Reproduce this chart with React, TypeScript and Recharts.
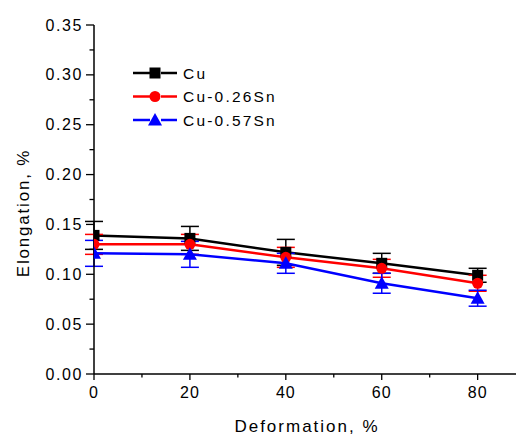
import { LineChart, Line, XAxis, YAxis, ErrorBar } from 'recharts';

// Deformation (%) and elongation (%)
const deformation = [0, 20, 40, 60, 80];
const cuValues = [0.139, 0.136, 0.122, 0.111, 0.099];
const cuErrors = [0.014, 0.012, 0.013, 0.01, 0.007];
const sn26Values = [0.13, 0.13, 0.117, 0.106, 0.091];
const sn26Errors = [0.01, 0.01, 0.01, 0.009, 0.008];
const sn57Values = [0.121, 0.12, 0.111, 0.091, 0.076];
const sn57Errors = [0.013, 0.013, 0.01, 0.01, 0.008];

const xTicks = [0, 10, 20, 30, 40, 50, 60, 70, 80];
const yTicks = [0, 0.025, 0.05, 0.075, 0.1, 0.125, 0.15, 0.175, 0.2, 0.225, 0.25, 0.275, 0.3, 0.325, 0.35];

const seriesNames = ['Cu', 'Cu-0.26Sn', 'Cu-0.57Sn'];
const seriesColors = ['#000000', '#ff0000', '#0000ff'];

const data = deformation.map((d, i) => ({
  deformation: d,
  cu: cuValues[i],
  cuErr: cuErrors[i],
  sn26: sn26Values[i],
  sn26Err: sn26Errors[i],
  sn57: sn57Values[i],
  sn57Err: sn57Errors[i],
}));

const FONT = '"Liberation Sans", Arial, sans-serif';

// plot box, used to cut markers that sit on the left axis
const PLOT = { left: 94, top: 25, right: 516, bottom: 374 };

const Marker = ({ kind, cx, cy, color }: { kind: number; cx: number; cy: number; color: string }) => {
  if (kind === 0) return <rect x={cx - 5.5} y={cy - 5.5} width={11} height={11} fill={color} />;
  if (kind === 1) return <circle cx={cx} cy={cy} r={5.5} fill={color} />;
  return <polygon points={`${cx},${cy - 7} ${cx - 7},${cy + 5.5} ${cx + 7},${cy + 5.5}`} fill={color} />;
};

const makeDot = (kind: number, color: string) => (props: any) => {
  if (props.cx == null || props.cy == null) return <g key={props.index} />;
  return (
    <g key={`d-${kind}-${props.index}`} clipPath="url(#plotClip)">
      {kind === 0 && props.index === 0 && (
        <defs>
          <clipPath id="plotClip">
            <rect x={PLOT.left} y={0} width={PLOT.right - PLOT.left} height={PLOT.bottom} />
          </clipPath>
        </defs>
      )}
      <Marker kind={kind} cx={props.cx} cy={props.cy} color={color} />
    </g>
  );
};

const XTick = ({ x, y, payload }: any) => {
  const major = payload.value % 20 === 0;
  return (
    <g>
      <line x1={x} x2={x} y1={y} y2={y + (major ? 6 : 3.5)} stroke="#000" strokeWidth={1.3} />
      {major && (
        <text x={x} y={y + 24} textAnchor="middle" fontFamily={FONT} fontSize={16} letterSpacing={1} fill="#000">
          {payload.value}
        </text>
      )}
    </g>
  );
};

const YTick = ({ x, y, payload }: any) => {
  const major = Math.round(payload.value * 1000) % 50 === 0;
  return (
    <g>
      <line x1={x} x2={x - (major ? 8 : 4.5)} y1={y} y2={y} stroke="#000" strokeWidth={1.3} />
      {major && (
        <text x={x - 11} y={y + 5.5} textAnchor="end" fontFamily={FONT} fontSize={16} letterSpacing={1.6} fill="#000">
          {payload.value.toFixed(2)}
        </text>
      )}
    </g>
  );
};

const XLabel = () => (
  <text x={307} y={432} textAnchor="middle" fontFamily={FONT} fontSize={17} letterSpacing={2} fill="#000">
    Deformation, %
  </text>
);

const YLabel = () => (
  <text
    x={29}
    y={213}
    transform="rotate(-90 29 213)"
    textAnchor="middle"
    fontFamily={FONT}
    fontSize={17}
    letterSpacing={1.8}
    fill="#000"
  >
    Elongation, %
  </text>
);

const LegendBox = () => (
  <svg width={170} height={80} style={{ position: 'absolute', left: 130, top: 63 }}>
    {seriesNames.map((name, i) => {
      const cy = 10 + i * 23.5;
      return (
        <g key={name}>
          <line x1={3} x2={20} y1={cy} y2={cy} stroke={seriesColors[i]} strokeWidth={2.5} />
          <line x1={31} x2={47} y1={cy} y2={cy} stroke={seriesColors[i]} strokeWidth={2.5} />
          <Marker kind={i} cx={25} cy={cy} color={seriesColors[i]} />
          <text x={53} y={cy + 5.5} fontFamily={FONT} fontSize={15.5} letterSpacing={2.2} fill="#000">
            {name}
          </text>
        </g>
      );
    })}
  </svg>
);

export default function App() {
  return (
    <div style={{ position: 'absolute', left: 0, top: 0, width: 516, height: 436, background: '#fff' }}>
      <LineChart width={516} height={436} data={data} margin={{ top: 25, right: 0, bottom: 0, left: 0 }}>
        <XAxis
          dataKey="deformation"
          type="number"
          domain={[0, 88]}
          ticks={xTicks}
          allowDataOverflow
          height={62}
          tickSize={0}
          tickMargin={0}
          tickLine={false}
          tick={<XTick />}
          axisLine={{ stroke: '#000', strokeWidth: 1.5 }}
          label={<XLabel />}
        />
        <YAxis
          type="number"
          domain={[0, 0.35]}
          ticks={yTicks}
          allowDataOverflow
          width={94}
          tickSize={0}
          tickMargin={0}
          tickLine={false}
          tick={<YTick />}
          axisLine={{ stroke: '#000', strokeWidth: 1.5 }}
          label={<YLabel />}
        />
        <Line dataKey="cu" name="Cu" stroke="#000" strokeWidth={2.5} dot={makeDot(0, '#000')} isAnimationActive={false}>
          <ErrorBar dataKey="cuErr" width={9} stroke="#000" strokeWidth={1.5} direction="y" />
        </Line>
        <Line dataKey="sn26" name="Cu-0.26Sn" stroke="#ff0000" strokeWidth={2.5} dot={makeDot(1, '#ff0000')} isAnimationActive={false}>
          <ErrorBar dataKey="sn26Err" width={9} stroke="#ff0000" strokeWidth={1.5} direction="y" />
        </Line>
        <Line dataKey="sn57" name="Cu-0.57Sn" stroke="#0000ff" strokeWidth={2.5} dot={makeDot(2, '#0000ff')} isAnimationActive={false}>
          <ErrorBar dataKey="sn57Err" width={9} stroke="#0000ff" strokeWidth={1.5} direction="y" />
        </Line>
      </LineChart>
      <LegendBox />
    </div>
  );
}
